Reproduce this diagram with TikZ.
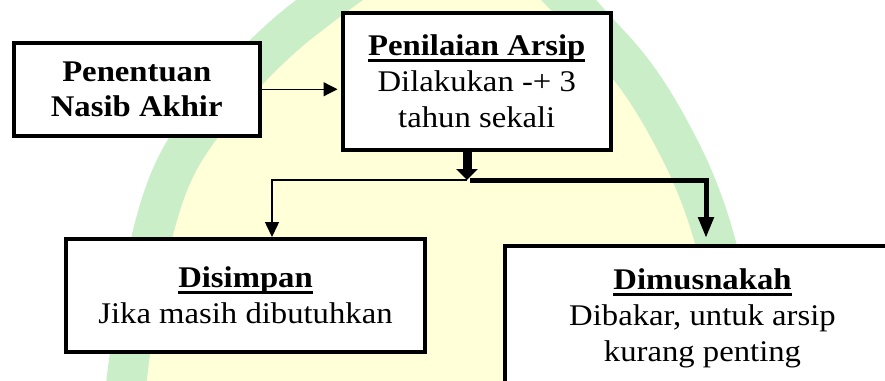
\documentclass[tikz,border=0pt]{standalone}
\usepackage{fontspec}
\setmainfont{Liberation Serif}[FakeStretch=1.09]
\usetikzlibrary{arrows.meta}
\newcommand\ulin[1]{\setbox0=\hbox{#1}\rlap{\rule[-6.5pt]{\wd0}{3pt}}\box0}
\definecolor{wmgreen}{RGB}{202,239,200}
\definecolor{wmyellow}{RGB}{255,255,216}
\begin{document}
\begin{tikzpicture}[x=1pt,y=-1pt,
  box/.style={draw=black, line width=4pt, fill=white, inner sep=0pt, align=center,
    font=\fontsize{30}{36}\selectfont},
  boldbox/.style={box, font=\fontsize{30}{35}\selectfont\bfseries},
  thinconn/.style={line width=1.5pt},
  thickconn/.style={line width=5pt},
  wmpath/.style={smooth, tension=0.55}]
\useasboundingbox (0,0) rectangle (885,380);
\clip (0,0) rectangle (885,380);
\fill[white] (0,0) rectangle (885,380);
% watermark
\fill[wmyellow] plot[wmpath] coordinates {(122,420) (142,280) (185,150) (303,20)
  (470,-70) (610,45) (680,150) (720,260) (746,420)} -- cycle;
\draw[wmgreen, line width=40pt] plot[wmpath] coordinates {(122,420) (142,280) (185,150) (303,20)
  (470,-70) (610,45) (680,150) (720,260) (746,420)};
% boxes
\node[boldbox, minimum width=245.5pt, minimum height=92.5pt] (A) at (136.75,89.25)
  {Penentuan\\Nasib Akhir};
\node[box, minimum width=268.5pt, minimum height=137.5pt] (B) at (476.75,81.25)
  {\textbf{\ulin{Penilaian Arsip}}\\Dilakukan -+ 3\\tahun sekali};
\node[box, minimum width=359pt, minimum height=113pt] (C) at (245.5,295.5)
  {\textbf{\ulin{Disimpan}}\\Jika masih dibutuhkan};
\node[box, minimum width=395pt, minimum height=144pt] (D) at (702.5,318)
  {\textbf{\ulin{Dimusnakah}}\\Dibakar, untuk arsip\\kurang penting};
% connectors
\coordinate (J) at (467,180);
\draw[line width=1.3pt, -{Triangle[length=14pt,width=14pt]}, shorten >=3pt]
  (A.east) -- (A.east -| B.west);
\draw[line width=9pt, -{Triangle[length=11pt,width=21pt]}] (J |- B.south) -- (J);
\draw[thinconn, -{Triangle[length=15pt,width=14pt]}] (J) -| ([xshift=26.5pt]C.north);
\draw[thickconn, -{Triangle[length=21pt,width=15pt]}, shorten >=6pt]
  ([xshift=3pt]J) -| ([xshift=3.5pt]D.north);
\end{tikzpicture}
\end{document}
